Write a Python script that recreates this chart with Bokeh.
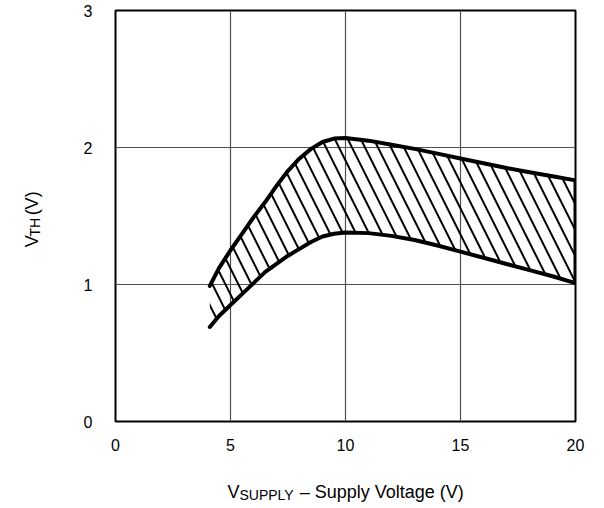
import math
from bokeh.plotting import figure
from bokeh.models import Range1d
from bokeh.layouts import column, row
from bokeh.core.properties import value
from bokeh.embed import file_html
from bokeh.resources import INLINE

# ---- data ----
vsupply = [4.1, 4.5, 5, 5.5, 6, 6.5, 7, 7.5, 8, 8.5, 9, 9.5, 10,
           11, 12, 13, 14, 15, 16, 17, 18, 19, 20]
vth_max = [0.99, 1.12, 1.25, 1.37, 1.49, 1.60, 1.72, 1.83, 1.92, 1.99, 2.04, 2.065, 2.07,
           2.05, 2.02, 1.99, 1.955, 1.92, 1.885, 1.85, 1.82, 1.79, 1.76]
vth_min = [0.69, 0.77, 0.85, 0.93, 1.01, 1.09, 1.15, 1.21, 1.26, 1.31, 1.35, 1.37, 1.38,
           1.375, 1.355, 1.325, 1.285, 1.24, 1.195, 1.15, 1.105, 1.06, 1.01]
x_ticks = [0, 5, 10, 15, 20]
y_ticks = [0, 1, 2, 3]

x_title = ["V", "SUPPLY", "\u2013 Supply Voltage (V)"]
y_title = ["V", "TH", "(V)"]

FONT = "Liberation Sans"

W, H = 604, 508
YLAB_W = 50          # strip holding the rotated y title
MAIN_H = 460         # main figure height
XLAB_H = H - MAIN_H  # strip holding the x title

p = figure(width=W - YLAB_W, height=MAIN_H, output_backend="svg", toolbar_location=None,
           x_range=Range1d(0, 20), y_range=Range1d(0, 3),
           min_border_left=115 - YLAB_W, min_border_right=29,
           min_border_top=10, min_border_bottom=MAIN_H - 421)

p.background_fill_color = "white"
p.border_fill_color = "white"
p.outline_line_color = "black"
p.outline_line_width = 2

for ax, ticks in ((p.xaxis, x_ticks), (p.yaxis, y_ticks)):
    ax.ticker = ticks
    ax.axis_line_color = None
    ax.major_tick_line_color = None
    ax.minor_tick_line_color = None
    ax.major_label_text_font = FONT
    ax.major_label_text_font_size = "16px"
    ax.major_label_text_color = "black"
p.xaxis.major_label_standoff = 11
p.yaxis.major_label_standoff = 17

p.xgrid.ticker = x_ticks
p.ygrid.ticker = y_ticks
p.grid.grid_line_color = "#505050"
p.grid.grid_line_width = 1.2

# hatched region between the limits
p.patch(x=vsupply + vsupply[::-1], y=vth_max + vth_min[::-1],
        fill_color=None, line_color=None,
        hatch_pattern="left_diagonal_line", hatch_color="black",
        hatch_weight=2, hatch_scale=26)

style = dict(line_color="black", line_width=4, line_join="round", line_cap="round")
p.line(vsupply, vth_max, **style)
p.line(vsupply, vth_min, **style)
p.line([vsupply[-1], vsupply[-1]], [vth_min[-1], vth_max[-1]], **style)


def strip(w, h):
    f = figure(width=w, height=h, output_backend="svg", toolbar_location=None,
               x_range=Range1d(0, w), y_range=Range1d(h, 0),
               x_axis_type=None, y_axis_type=None, min_border=0)
    f.outline_line_color = None
    f.grid.visible = False
    f.background_fill_color = "white"
    f.border_fill_color = "white"
    return f


txt = dict(text_font=value(FONT), text_color="black",
           text_baseline="alphabetic", text_align="left")

# x title strip (pixel coordinates inside the strip, top-left origin)
xl = strip(W, XLAB_H)
x0, base = 227, 491 - MAIN_H
xl.text(x=[x0], y=[base], text=[x_title[0]], text_font_size="18px", **txt)
xl.text(x=[x0 + 12], y=[base + 3], text=[x_title[1]], text_font_size="14px", **txt)
xl.text(x=[x0 + 12 + 55.2 + 5], y=[base], text=[x_title[2]], text_font_size="18px", **txt)

# y title strip (rotated text)
yl = strip(YLAB_W, MAIN_H)
y0, bx = 265, 31
yl.text(x=[bx], y=[y0], text=[y_title[0]], angle=math.pi / 2,
        text_font_size="18px", **txt)
yl.text(x=[bx + 3], y=[y0 - 12], text=[y_title[1]], angle=math.pi / 2,
        text_font_size="14px", **txt)
yl.text(x=[bx], y=[y0 - 12 - 18.7 - 5], text=[y_title[2]], angle=math.pi / 2,
        text_font_size="18px", **txt)

layout = column(row(yl, p, spacing=0), xl, spacing=0)

open("out.html", "w").write(file_html(layout, INLINE))
